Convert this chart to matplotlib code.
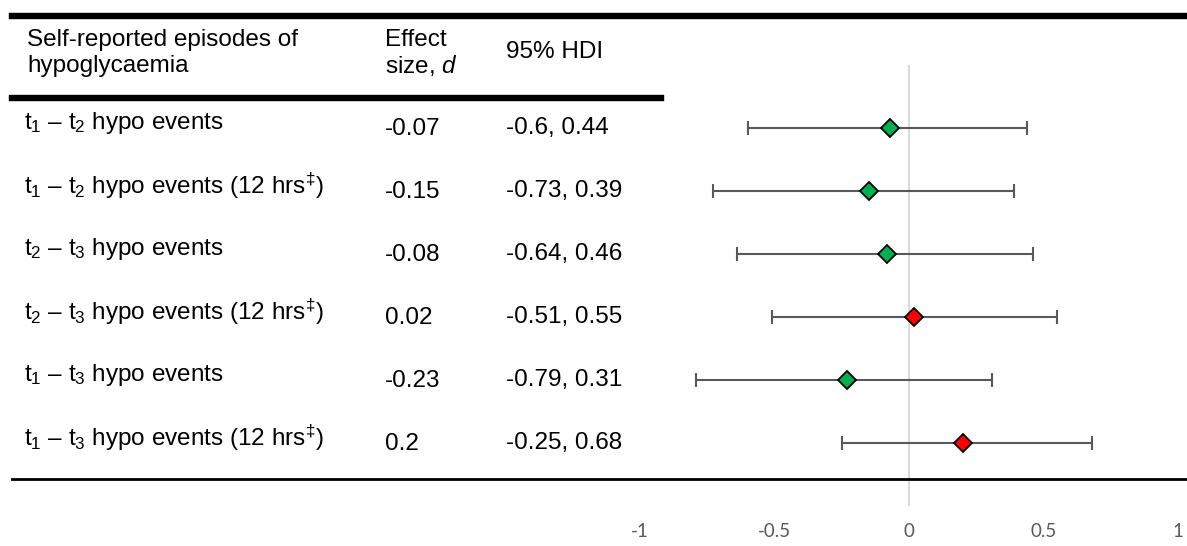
import matplotlib.pyplot as plt
import matplotlib.transforms as mtransforms
from matplotlib.lines import Line2D

plt.rcParams["font.family"] = ["Liberation Sans", "DejaVu Sans"]
plt.rcParams["mathtext.fontset"] = "custom"
plt.rcParams["mathtext.rm"] = "Liberation Sans"
plt.rcParams["mathtext.it"] = "Liberation Sans:italic"

labels = [
    "t$_1$ – t$_2$ hypo events",
    "t$_1$ – t$_2$ hypo events (12 hrs$^{‡}$)",
    "t$_2$ – t$_3$ hypo events",
    "t$_2$ – t$_3$ hypo events (12 hrs$^{‡}$)",
    "t$_1$ – t$_3$ hypo events",
    "t$_1$ – t$_3$ hypo events (12 hrs$^{‡}$)",
]
effect = [-0.07, -0.15, -0.08, 0.02, -0.23, 0.2]
effect_txt = ["-0.07", "-0.15", "-0.08", "0.02", "-0.23", "0.2"]
hdi_low = [-0.6, -0.73, -0.64, -0.51, -0.79, -0.25]
hdi_high = [0.44, 0.39, 0.46, 0.55, 0.31, 0.68]
hdi_txt = ["-0.6, 0.44", "-0.73, 0.39", "-0.64, 0.46",
           "-0.51, 0.55", "-0.79, 0.31", "-0.25, 0.68"]
x_ticks = [-1, -0.5, 0, 0.5, 1]
x_tick_labels = ["-1", "-0.5", "0", "0.5", "1"]

W, H = 1187, 546
fig = plt.figure(figsize=(W / 100, H / 100), dpi=100)

# forest plot area, -1 at px 640 and 1 at px 1178
ax = fig.add_axes([640 / W, 26 / H, 538 / W, 520 / H])
rows = list(range(len(labels)))
ax.set_xlim(-1, 1)
ax.set_ylim(6.222, -2.032)

ax.vlines(0, -1, 6, color="#d9d9d9", lw=1.5, zorder=1)
xerr = [[e - lo for e, lo in zip(effect, hdi_low)],
        [hi - e for e, hi in zip(effect, hdi_high)]]
ax.errorbar(effect, rows, xerr=xerr, fmt="none", ecolor="#595959",
            elinewidth=1.5, capsize=5, capthick=1.5, zorder=2)
colors = ["#ff0000" if e > 0 else "#00b050" for e in effect]
for e, r, c in zip(effect, rows, colors):
    ax.plot(e, r, marker="D", ms=9.5, mfc=c, mec="black", mew=1.3, zorder=3)

for s in ax.spines.values():
    s.set_visible(False)
ax.set_yticks([])
ax.set_xticks(x_ticks)
ax.set_xticklabels(x_tick_labels, family="Lato", fontsize=13.5, color="#595959")
ax.tick_params(axis="x", length=0, pad=2)

# table text
trans = mtransforms.blended_transform_factory(fig.transFigure, ax.transData)
fs = 17.5
for r, lab, et, ht in zip(rows, labels, effect_txt, hdi_txt):
    fig.text(24 / W, r - 0.08, lab, transform=trans, fontsize=fs, va="center")
    fig.text(385 / W, r + 0.02, et, transform=trans, fontsize=fs, va="center")
    fig.text(506 / W, r, ht, transform=trans, fontsize=fs, va="center")

fig.text(27 / W, 1 - 40 / H, "Self-reported episodes of", fontsize=fs, va="center")
fig.text(27 / W, 1 - 66 / H, "hypoglycaemia", fontsize=fs, va="center")
fig.text(385 / W, 1 - 40 / H, "Effect", fontsize=fs, va="center")
fig.text(385 / W, 1 - 66 / H, "size, $d$", fontsize=fs, va="center")
fig.text(506 / W, 1 - 52 / H, "95% HDI", fontsize=fs, va="center")

# table rules
fig.add_artist(Line2D([12 / W, 1], [1 - 15.5 / H] * 2, color="black", lw=4.6))
fig.add_artist(Line2D([12 / W, 661 / W], [1 - 98 / H] * 2, color="black", lw=4.6))
fig.add_artist(Line2D([12 / W, 1], [1 - 478.5 / H] * 2, color="black", lw=2))

fig.savefig("out.png", dpi=100)
